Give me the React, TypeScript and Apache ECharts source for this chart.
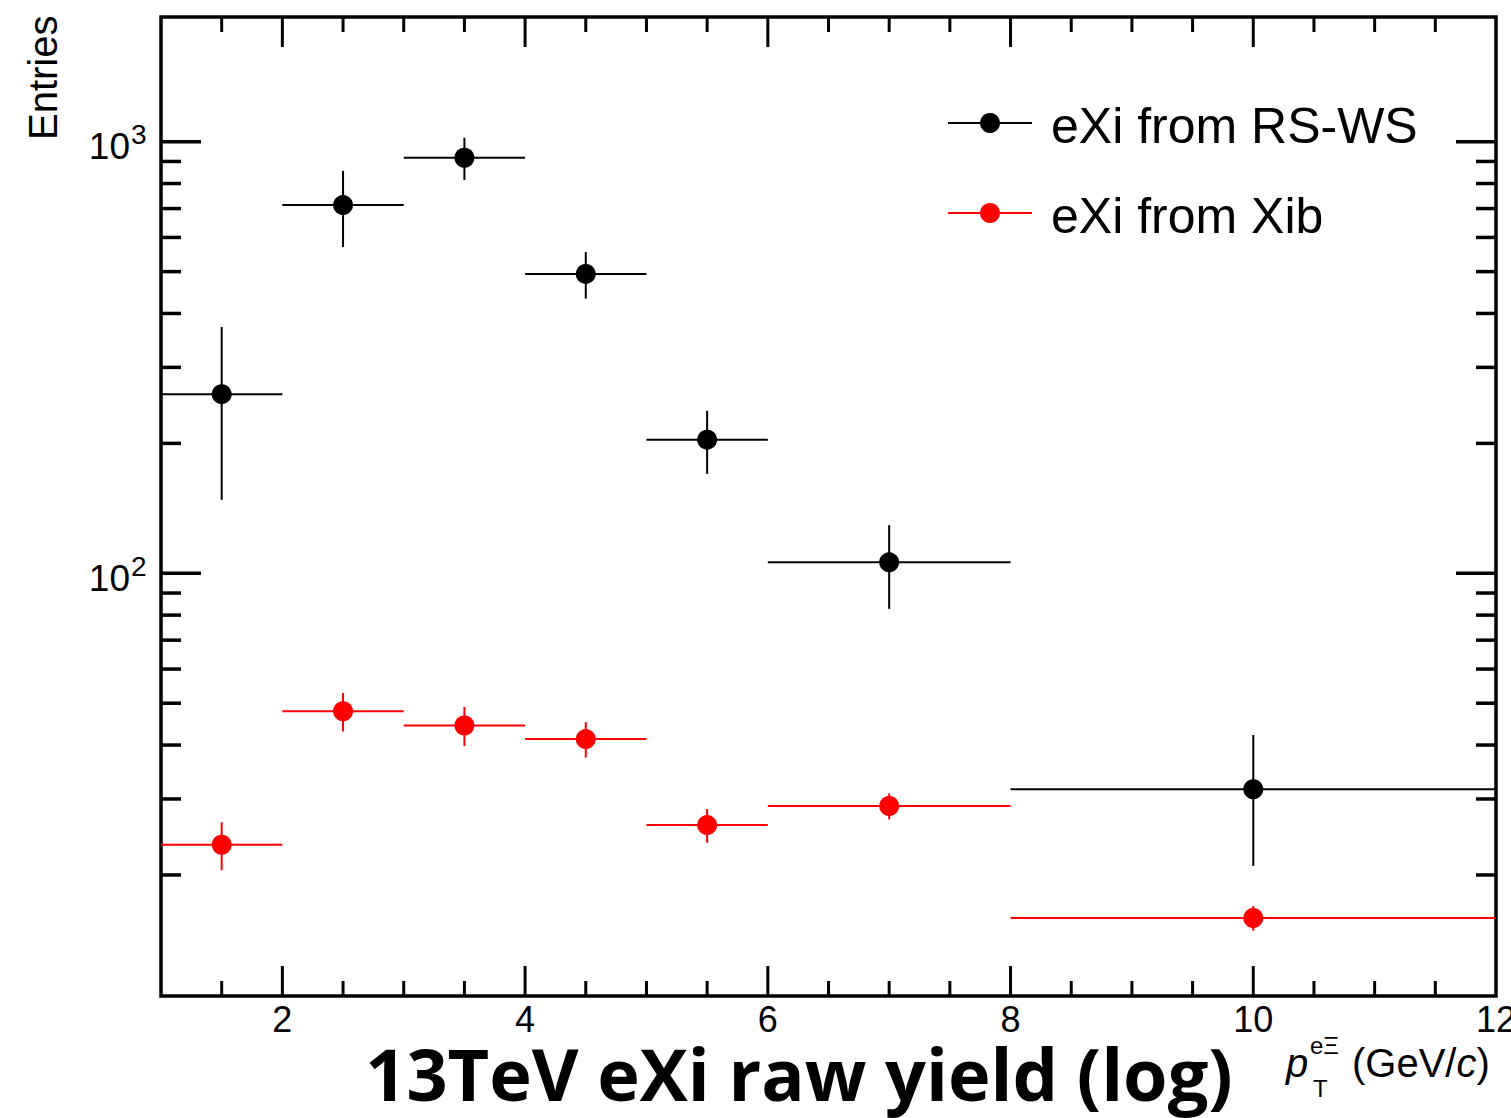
import React, { useEffect, useRef } from "react";
import * as echarts from "echarts";

// ---- data ----
const binLo = [1, 2, 3, 4, 5, 6, 8];
const binHi = [2, 3, 4, 5, 6, 8, 12];
const binCenter = [1.5, 2.5, 3.5, 4.5, 5.5, 7, 10];
const rswsValues = [260, 713, 918, 494, 204, 106, 31.6];
const rswsErrors = [112, 143, 103, 61, 34, 23.3, 10.6];
const xibValues = [23.5, 47.9, 44.4, 41.3, 26.1, 28.9, 15.9];
const xibErrors = [3.0, 4.9, 4.6, 3.9, 2.35, 2.0, 1.05];

const xMajorTicks = [2, 4, 6, 8, 10];
const xMinorTicks = [1.5, 2.5, 3, 3.5, 4.5, 5, 5.5, 6.5, 7, 7.5, 8.5, 9, 9.5, 10.5, 11, 11.5];
const yMajorTicks = [100, 1000];
const yMinorTicks = [20, 30, 40, 50, 60, 70, 80, 90, 200, 300, 400, 500, 600, 700, 800, 900];
const xLabelValues = [2, 4, 6, 8, 10, 12];
const yLabelExponents = [2, 3];

const seriesNames = ["eXi from RS-WS", "eXi from Xib"];
const seriesColors = ["#000000", "#ff0000"];
const titleText = "13TeV eXi raw yield (log)";

const X_MIN = 1;
const X_MAX = 12;
const Y_MIN = 10.486;
const Y_MAX = 1945;

const LABEL_FONT = "Liberation Sans";

function errRender(color: string) {
  return (params: any, api: any) => {
    const x = api.value(0);
    const y = api.value(1);
    const lo = api.value(2);
    const hi = api.value(3);
    const e = api.value(4);
    const c = api.coord([x, y]);
    const pl = api.coord([lo, y]);
    const pr = api.coord([hi, y]);
    const pt = api.coord([x, y + e]);
    const pb = api.coord([x, y - e]);
    const ls = { stroke: color, lineWidth: 2 };
    return {
      type: "group",
      children: [
        { type: "line", shape: { x1: pl[0], y1: c[1], x2: pr[0], y2: c[1] }, style: ls },
        { type: "line", shape: { x1: c[0], y1: pt[1], x2: c[0], y2: pb[1] }, style: ls },
        { type: "circle", shape: { cx: c[0], cy: c[1], r: 10 }, style: { fill: color } },
      ],
    };
  };
}

function xTickRender(params: any, api: any) {
  const v = api.value(0);
  const major = api.value(2) === 1;
  const cs = params.coordSys;
  const px = api.coord([v, 100])[0];
  const len = major ? 30 : 15;
  const st = { stroke: "#000", lineWidth: 3 };
  const yb = cs.y + cs.height;
  return {
    type: "group",
    children: [
      { type: "line", shape: { x1: px, y1: yb, x2: px, y2: yb - len }, style: st },
      { type: "line", shape: { x1: px, y1: cs.y, x2: px, y2: cs.y + len }, style: st },
    ],
  };
}

function yTickRender(params: any, api: any) {
  const v = api.value(1);
  const major = api.value(2) === 1;
  const cs = params.coordSys;
  const py = api.coord([6, v])[1];
  const len = major ? 40 : 20;
  const st = { stroke: "#000", lineWidth: 3.5 };
  const xr = cs.x + cs.width;
  return {
    type: "group",
    children: [
      { type: "line", shape: { x1: cs.x, y1: py, x2: cs.x + len, y2: py }, style: st },
      { type: "line", shape: { x1: xr, y1: py, x2: xr - len, y2: py }, style: st },
    ],
  };
}

// y labels "10^e" drawn at the log-scale position of 10^e
function yLabelRender(params: any, api: any) {
  const e = api.value(2);
  const v = api.value(1);
  const cs = params.coordSys;
  const py = api.coord([6, v])[1];
  const xr = cs.x - 31;
  return {
    type: "group",
    children: [
      {
        type: "text",
        x: xr,
        y: py + 5,
        style: { text: "10", fontSize: 37, fontFamily: LABEL_FONT, fill: "#000", align: "right", verticalAlign: "middle" },
      },
      {
        type: "text",
        x: xr + 1,
        y: py - 7,
        style: { text: String(e), fontSize: 28, fontFamily: LABEL_FONT, fill: "#000", align: "left", verticalAlign: "middle" },
      },
    ],
  };
}

export default function App() {
  const ref = useRef<HTMLDivElement>(null);
  useEffect(() => {
    if (!ref.current) return;
    const chart = echarts.init(ref.current, undefined, { renderer: "svg" });

    const xTickData = [
      ...xMajorTicks.map((v) => [v, 100, 1]),
      ...xMinorTicks.map((v) => [v, 100, 0]),
    ];
    const yTickData = [
      ...yMajorTicks.map((v) => [6, v, 1]),
      ...yMinorTicks.map((v) => [6, v, 0]),
    ];
    const yLabelData = yLabelExponents.map((e) => [6, Math.pow(10, e), e]);

    const legendY = [123, 213];
    const legendGraphics: any[] = [];
    seriesNames.forEach((name, i) => {
      legendGraphics.push({
        type: "line",
        shape: { x1: 948, y1: legendY[i], x2: 1032, y2: legendY[i] },
        style: { stroke: seriesColors[i], lineWidth: 2 },
      });
      legendGraphics.push({
        type: "circle",
        shape: { cx: 990, cy: legendY[i], r: 10 },
        style: { fill: seriesColors[i] },
      });
      legendGraphics.push({
        type: "text",
        x: 1051,
        y: legendY[i] + 3,
        style: {
          text: name,
          fontSize: 50,
          fontFamily: LABEL_FONT,
          fill: "#000",
          align: "left",
          verticalAlign: "middle",
        },
      });
    });

    const option: any = {
      animation: false,
      grid: {
        left: 161,
        top: 17,
        right: 15,
        bottom: 122,
        show: true,
        borderColor: "#000",
        borderWidth: 3.5,
        backgroundColor: "transparent",
        containLabel: false,
        outerBoundsMode: "none",
      },
      xAxis: {
        type: "value",
        min: X_MIN,
        max: X_MAX,
        interval: 1,
        axisLine: { show: false },
        axisTick: { show: false },
        splitLine: { show: false },
        axisLabel: {
          color: "#000",
          fontSize: 36,
          fontFamily: LABEL_FONT,
          margin: 8,
          lineHeight: 30,
          showMinLabel: true,
          showMaxLabel: true,
          formatter: (v: number) => (xLabelValues.includes(v) ? String(v) : ""),
        },
      },
      yAxis: {
        type: "log",
        logBase: 10,
        min: Y_MIN,
        max: Y_MAX,
        axisLine: { show: false },
        axisTick: { show: false },
        splitLine: { show: false },
        axisLabel: { show: false },
      },
      series: [
        {
          type: "custom",
          name: "xticks",
          silent: true,
          renderItem: xTickRender,
          data: xTickData,
          encode: { x: 0, y: 1 },
          z: 5,
        },
        {
          type: "custom",
          name: "yticks",
          silent: true,
          renderItem: yTickRender,
          data: yTickData,
          encode: { x: 0, y: 1 },
          z: 5,
        },
        {
          type: "custom",
          name: "ylabels",
          silent: true,
          clip: false,
          renderItem: yLabelRender,
          data: yLabelData,
          encode: { x: 0, y: 1 },
          z: 5,
        },
        {
          type: "custom",
          name: seriesNames[0],
          renderItem: errRender(seriesColors[0]),
          clip: true,
          encode: { x: 0, y: 1 },
          data: rswsValues.map((v, i) => [binCenter[i], v, binLo[i], binHi[i], rswsErrors[i]]),
          z: 3,
        },
        {
          type: "custom",
          name: seriesNames[1],
          renderItem: errRender(seriesColors[1]),
          clip: true,
          encode: { x: 0, y: 1 },
          data: xibValues.map((v, i) => [binCenter[i], v, binLo[i], binHi[i], xibErrors[i]]),
          z: 3,
        },
      ],
      graphic: [
        ...legendGraphics,
        {
          type: "text",
          x: 43,
          y: 140,
          rotation: Math.PI / 2,
          style: {
            text: "Entries",
            fontSize: 40,
            fontFamily: LABEL_FONT,
            fill: "#000",
            align: "left",
            verticalAlign: "middle",
          },
        },
        {
          type: "text",
          x: 799,
          y: 1073,
          style: {
            text: titleText,
            fontSize: 72,
            lineHeight: 60,
            fontWeight: "bold",
            fontFamily: "Open Sans",
            fill: "#000",
            align: "center",
            verticalAlign: "middle",
          },
        },
        {
          type: "text",
          x: 1286,
          y: 1063,
          style: {
            text: "p",
            fontSize: 40,
            fontStyle: "italic",
            fontFamily: LABEL_FONT,
            fill: "#000",
            align: "left",
            verticalAlign: "middle",
          },
        },
        {
          type: "text",
          x: 1310,
          y: 1045,
          style: {
            text: "eΞ",
            fontSize: 24,
            fontFamily: LABEL_FONT,
            fill: "#000",
            align: "left",
            verticalAlign: "middle",
          },
        },
        {
          type: "text",
          x: 1313,
          y: 1088,
          style: {
            text: "T",
            fontSize: 24,
            fontFamily: LABEL_FONT,
            fill: "#000",
            align: "left",
            verticalAlign: "middle",
          },
        },
        {
          type: "text",
          x: 1352,
          y: 1063,
          style: {
            text: "(GeV/{i|c})",
            fontSize: 40,
            fontFamily: LABEL_FONT,
            fill: "#000",
            align: "left",
            verticalAlign: "middle",
            rich: {
              i: { fontSize: 40, fontStyle: "italic", fontFamily: LABEL_FONT, fill: "#000" },
            },
          },
        },
      ],
    };

    chart.setOption(option);
    return () => chart.dispose();
  }, []);

  return (
    <div
      ref={ref}
      style={{ position: "fixed", left: 0, top: 0, width: 1511, height: 1118, background: "#fff" }}
    />
  );
}
